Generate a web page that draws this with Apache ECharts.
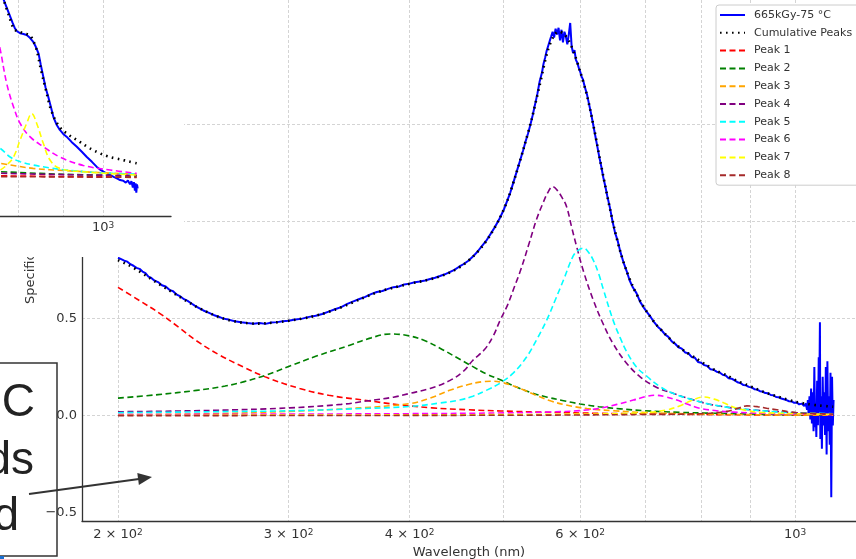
<!DOCTYPE html>
<html><head><meta charset="utf-8">
<script src="https://cdn.jsdelivr.net/npm/echarts@6/dist/echarts.min.js"></script>
<style>html,body{margin:0;padding:0;background:#fff}#c{width:856px;height:559px}</style>
</head><body><div id="c"></div>
<script>
// ---------- DATA ----------
const xTickValues = [200,300,400,500,600,700,800,900,1000];
const xLabelValues = [200,300,400,600,1000];
const yTickValues = [-0.5,0,0.5,1,1.5,2];
const insetXTicks = [800,900,1000];
const insetXLabels = [1000];
const insetYTicks = [0,0.5];

const seriesNames = ['665kGy-75 °C','Cumulative Peaks','Peak 1','Peak 2','Peak 3','Peak 4','Peak 5','Peak 6','Peak 7','Peak 8'];
const peakColors = ['#ff0000','#008000','#ffa500','#800080','#00ffff','#ff00ff','#ffff00','#a52a2a'];

const mainMeasured = [[200,0.812],[201.5,0.805],[203,0.797],[204.5,0.792],[206,0.779],[207.5,0.771],[209,0.76],[210.5,0.755],[212,0.741],[213.5,0.733],[215,0.715],[216.5,0.708],[218,0.695],[220,0.687],[222,0.671],[224,0.664],[226,0.647],[228,0.64],[230,0.622],[232,0.613],[234,0.599],[236,0.59],[238,0.578],[240,0.566],[242,0.556],[245,0.541],[248,0.53],[251,0.518],[254,0.509],[257,0.499],[260,0.494],[264,0.486],[268,0.48],[272,0.476],[276,0.473],[280,0.476],[284,0.472],[288,0.479],[292,0.481],[296,0.486],[300,0.488],[305,0.495],[310,0.499],[315,0.508],[320,0.514],[325,0.523],[330,0.535],[335,0.547],[340,0.558],[345,0.575],[350,0.588],[355,0.6],[360,0.611],[365,0.625],[370,0.636],[375,0.641],[380,0.652],[385,0.661],[390,0.664],[395,0.675],[400,0.679],[405,0.686],[410,0.69],[415,0.695],[420,0.703],[425,0.709],[430,0.718],[435,0.727],[440,0.738],[445,0.75],[450,0.766],[455,0.78],[460,0.797],[465,0.818],[470,0.843],[475,0.872],[480,0.9],[485,0.935],[490,0.97],[495,1.01],[500,1.055],[504,1.1],[508,1.145],[512,1.2],[516,1.255],[520,1.31],[524,1.365],[527,1.41],[530,1.45],[533,1.495],[536,1.545],[539,1.6],[542,1.655],[545,1.72],[548,1.765],[550,1.81],[552,1.84],[554,1.875],[556,1.9],[558,1.925],[560,1.95],[562,1.975],[564,1.945],[566,1.99],[568,1.96],[570,1.995],[572,1.93],[574,1.985],[576,1.92],[578,1.975],[580,1.95],[582,1.91],[584,1.96],[586,2.02],[588,1.9],[590,1.865],[592,1.88],[594,1.83],[596,1.815],[598,1.79],[600,1.77],[602,1.745],[604,1.73],[606,1.7],[608,1.675],[610,1.65],[613,1.6],[616,1.55],[619,1.495],[622,1.44],[625,1.385],[628,1.33],[631,1.28],[634,1.225],[637,1.18],[640,1.13],[644,1.07],[648,1.0],[652,0.94],[656,0.9],[660,0.845],[665,0.79],[670,0.745],[675,0.695],[680,0.66],[686,0.63],[692,0.585],[698,0.556],[704,0.53],[710,0.505],[716,0.478],[722,0.456],[728,0.44],[734,0.418],[740,0.405],[746,0.382],[752,0.37],[758,0.352],[764,0.345],[770,0.325],[776,0.321],[782,0.302],[788,0.298],[794,0.276],[800,0.272],[806,0.26],[812,0.255],[818,0.238],[824,0.236],[830,0.226],[836,0.222],[842,0.21],[848,0.206],[854,0.192],[860,0.19],[866,0.182],[872,0.172],[878,0.168],[884,0.158],[890,0.156],[896,0.148],[902,0.145],[908,0.136],[914,0.134],[920,0.126],[926,0.124],[932,0.116],[938,0.115],[944,0.106],[950,0.105],[956,0.096],[962,0.094],[968,0.088],[974,0.084],[980,0.08],[986,0.074],[992,0.073],[998,0.066],[1004,0.068],[1010,0.058],[1016,0.062],[1022,0.05],[1026,0.063],[1029,0.03],[1031,0.08],[1033,0.0],[1035,0.1],[1037,-0.02],[1039,0.14],[1041,-0.04],[1043,0.12],[1045,-0.08],[1047,0.25],[1049,-0.06],[1050,0.05],[1052,-0.11],[1054,0.18],[1056,-0.05],[1058,0.3],[1059,0.02],[1061,0.48],[1062,-0.12],[1064,0.1],[1066,-0.17],[1068,0.2],[1070,-0.05],[1072,0.12],[1074,-0.1],[1076,0.25],[1078,-0.2],[1080,0.28],[1082,-0.08],[1084,0.1],[1086,-0.15],[1088,0.22],[1090,-0.42],[1092,0.2],[1094,-0.05],[1096,0.08]];

const mainCumulative = [[200,0.8],[205,0.775],[210,0.745],[215,0.712],[220,0.68],[225,0.65],[230,0.62],[235,0.592],[240,0.565],[245,0.542],[250,0.522],[255,0.505],[260,0.492],[265,0.483],[270,0.477],[278,0.473],[286,0.476],[295,0.483],[305,0.493],[315,0.506],[325,0.523],[335,0.545],[345,0.57],[355,0.597],[365,0.622],[375,0.643],[385,0.658],[395,0.672],[405,0.684],[415,0.695],[425,0.708],[435,0.725],[445,0.748],[455,0.778],[465,0.818],[475,0.868],[485,0.932],[495,1.01],[505,1.11],[515,1.24],[525,1.38],[535,1.53],[545,1.7],[555,1.87],[563,1.95],[570,1.975],[577,1.965],[584,1.93],[592,1.86],[600,1.77],[610,1.645],[620,1.48],[630,1.3],[640,1.13],[650,0.975],[660,0.845],[670,0.745],[680,0.665],[692,0.59],[705,0.525],[720,0.465],[735,0.418],[750,0.375],[770,0.33],[790,0.295],[810,0.26],[830,0.23],[850,0.207],[870,0.18],[890,0.16],[910,0.14],[930,0.12],[950,0.105],[975,0.087],[1000,0.072],[1030,0.06],[1060,0.052],[1095,0.046]];

const mainPeak1 = [[200,0.66],[210,0.595],[221,0.525],[231,0.455],[241,0.385],[255,0.31],[270,0.248],[285,0.196],[308,0.14],[330,0.105],[361,0.078],[390,0.056],[422,0.04],[460,0.03],[497,0.024],[560,0.017],[627,0.012],[700,0.009],[797,0.006],[900,0.004],[1000,0.003],[1095,0.002]];
const mainPeak2 = [[200,0.09],[220,0.108],[241,0.13],[258,0.152],[270,0.175],[285,0.21],[301,0.255],[320,0.305],[347,0.362],[365,0.4],[382,0.42],[400,0.41],[415,0.385],[430,0.347],[447,0.3],[465,0.252],[480,0.215],[497,0.183],[515,0.148],[535,0.117],[555,0.095],[575,0.078],[600,0.06],[627,0.046],[660,0.035],[700,0.025],[760,0.017],[830,0.012],[950,0.006],[1095,0.003]];
const mainPeak3 = [[200,0.005],[250,0.01],[300,0.022],[350,0.038],[400,0.062],[420,0.09],[440,0.13],[460,0.16],[475,0.174],[485,0.177],[497,0.172],[510,0.155],[525,0.132],[540,0.105],[560,0.075],[580,0.055],[610,0.036],[650,0.025],[700,0.016],[800,0.008],[900,0.005],[1095,0.002]];
const mainPeak4 = [[200,0.02],[250,0.027],[301,0.04],[340,0.058],[361,0.075],[385,0.095],[400,0.114],[420,0.14],[440,0.18],[455,0.23],[465,0.285],[478,0.34],[488,0.41],[496,0.49],[505,0.57],[513,0.66],[521,0.75],[531,0.88],[541,1.01],[550,1.1],[556,1.15],[562,1.178],[568,1.16],[575,1.12],[581,1.075],[588,0.97],[595,0.87],[605,0.74],[619,0.595],[634,0.47],[649,0.37],[670,0.27],[692,0.2],[720,0.145],[748,0.115],[780,0.085],[814,0.06],[860,0.04],[900,0.03],[1000,0.015],[1095,0.008]];
const mainPeak5 = [[200,0.015],[250,0.02],[301,0.025],[350,0.035],[400,0.047],[430,0.065],[450,0.08],[465,0.1],[480,0.13],[497,0.17],[512,0.22],[528,0.3],[541,0.39],[554,0.49],[565,0.59],[577,0.7],[590,0.82],[597,0.85],[605,0.862],[612,0.84],[619,0.8],[627,0.73],[634,0.65],[649,0.49],[660,0.4],[670,0.33],[686,0.25],[704,0.2],[725,0.15],[748,0.115],[780,0.085],[814,0.06],[860,0.04],[900,0.03],[970,0.018],[1095,0.01]];
const mainPeak6 = [[200,0.005],[300,0.008],[400,0.01],[500,0.014],[560,0.019],[600,0.026],[627,0.037],[655,0.058],[681,0.08],[700,0.097],[716,0.105],[735,0.097],[755,0.08],[775,0.058],[797,0.038],[830,0.025],[863,0.018],[950,0.01],[1095,0.005]];
const mainPeak7 = [[200,0.002],[400,0.004],[600,0.008],[700,0.015],[738,0.03],[760,0.05],[780,0.075],[804,0.096],[825,0.085],[845,0.065],[863,0.045],[890,0.027],[920,0.017],[1000,0.01],[1095,0.007]];
const mainPeak8 = [[200,0.0],[500,0.002],[700,0.006],[800,0.01],[850,0.022],[870,0.035],[892,0.05],[915,0.046],[935,0.038],[958,0.03],[985,0.02],[1012,0.014],[1095,0.008]];

const insetMeasured = [[755,0.95],[762,0.9],[767,0.86],[772,0.83],[777,0.8],[782,0.77],[787,0.74],[792,0.713],[797,0.698],[803,0.69],[810,0.686],[817,0.681],[824,0.668],[831,0.65],[837,0.625],[843,0.594],[848,0.54],[854,0.48],[859,0.43],[865,0.387],[871,0.34],[877,0.29],[884,0.255],[892,0.229],[900,0.21],[908,0.197],[920,0.172],[933,0.149],[946,0.124],[958,0.1],[971,0.077],[983,0.054],[992,0.04],[1001,0.03],[1010,0.021],[1019,0.014],[1030,0.004],[1040,-0.004],[1046,-0.01],[1055,-0.013],[1062,-0.022],[1068,-0.012],[1074,-0.03],[1078,-0.015],[1082,-0.045],[1085,-0.02],[1088,-0.06],[1090,-0.025],[1092,-0.07],[1094,-0.03],[1096,-0.05]];
const insetCumulative = [[760,0.92],[770,0.84],[780,0.77],[789,0.713],[796,0.7],[803,0.695],[813,0.688],[824,0.68],[831,0.655],[839,0.61],[846,0.54],[854,0.467],[862,0.4],[869,0.34],[878,0.29],[888,0.252],[898,0.228],[908,0.213],[920,0.196],[933,0.181],[950,0.16],[966,0.141],[983,0.125],[1001,0.11],[1020,0.099],[1046,0.089],[1070,0.079],[1093,0.07]];
const insetPeak1 = [[745,0.011],[900,0.007],[1093,0.004]];
const insetPeak2 = [[745,0.032],[900,0.018],[1093,0.01]];
const insetPeak3 = [[745,0.078],[762,0.07],[831,0.046],[908,0.035],[1000,0.025],[1093,0.018]];
const insetPeak4 = [[745,0.024],[900,0.016],[1093,0.012]];
const insetPeak5 = [[745,0.16],[762,0.141],[782,0.1],[803,0.078],[831,0.062],[870,0.048],[908,0.038],[992,0.025],[1093,0.019]];
const insetPeak6 = [[745,0.8],[755,0.68],[762,0.61],[775,0.45],[789,0.34],[803,0.26],[824,0.197],[854,0.149],[892,0.1],[949,0.06],[1019,0.038],[1093,0.022]];
const insetPeak7 = [[745,0.02],[762,0.038],[775,0.062],[789,0.1],[803,0.181],[817,0.26],[828,0.307],[839,0.26],[854,0.164],[869,0.086],[892,0.046],[949,0.03],[1093,0.014]];
const insetPeak8 = [[745,0.007],[900,0.005],[1093,0.003]];

const mainPeaks = [mainPeak1,mainPeak2,mainPeak3,mainPeak4,mainPeak5,mainPeak6,mainPeak7,mainPeak8];
const insetPeaks = [insetPeak1,insetPeak2,insetPeak3,insetPeak4,insetPeak5,insetPeak6,insetPeak7,insetPeak8];

// ---------- CHART ----------
const FONT = 'DejaVu Sans';
function sciLabel(v){
  const e = Math.floor(Math.log10(v) + 1e-9);
  const m = Math.round(v / Math.pow(10, e));
  return (m === 1 ? '' : m + ' × ') + '10{sup|' + e + '}';
}
function yLabel(v){
  if (Math.abs(v*2 - Math.round(v*2)) > 1e-6) return '';
  if (Math.abs(v) < 1e-9) return '0.0';
  return (v < 0 ? '\u2212' : '') + Math.abs(v).toFixed(1);
}
const gridLine = {show:true, lineStyle:{color:'#d4d4d4', width:1, type:[3,2]}};
const supRich = {sup:{fontSize:9, lineHeight:9, verticalAlign:'top', fontFamily:FONT, color:'#333'}};

const series = [];
series.push({name:seriesNames[0], type:'line', xAxisIndex:0, yAxisIndex:0, data:mainMeasured, symbol:'none', showSymbol:false,
  lineStyle:{color:'#0000ff', width:2}, itemStyle:{color:'#0000ff'}, z:2});
series.push({name:seriesNames[1], type:'line', xAxisIndex:0, yAxisIndex:0, data:mainCumulative, symbol:'none', smooth:0.3,
  lineStyle:{color:'#000', width:2.6, type:[1.6,4.4]}, itemStyle:{color:'#000'}, z:3});
mainPeaks.forEach((d,i)=>{
  series.push({name:seriesNames[i+2], type:'line', xAxisIndex:0, yAxisIndex:0, data:d, symbol:'none', smooth:0.4,
    lineStyle:{color:peakColors[i], width:1.6, type:[6,3.5]}, itemStyle:{color:peakColors[i]}, z:3});
});
series.push({name:'inset-measured', type:'line', xAxisIndex:1, yAxisIndex:1, data:insetMeasured, symbol:'none',
  lineStyle:{color:'#0000ff', width:2}, itemStyle:{color:'#0000ff'}, z:12});
series.push({name:'inset-cumulative', type:'line', xAxisIndex:1, yAxisIndex:1, data:insetCumulative, symbol:'none', smooth:0.3,
  lineStyle:{color:'#000', width:2.6, type:[1.6,4.4]}, itemStyle:{color:'#000'}, z:13});
insetPeaks.forEach((d,i)=>{
  series.push({name:'inset-'+seriesNames[i+2], type:'line', xAxisIndex:1, yAxisIndex:1, data:d, symbol:'none', smooth:0.4,
    lineStyle:{color:peakColors[i], width:1.6, type:[6,3.5]}, itemStyle:{color:peakColors[i]}, z:13});
});

const chart = echarts.init(document.getElementById('c'), null, {renderer:'canvas'});
chart.setOption({
  animation:false,
  backgroundColor:'#fff',
  textStyle:{fontFamily:FONT},
  grid:[
    {left:82, top:0, right:0, bottom:38, outerBoundsMode:'none', containLabel:false},
    {left:-50, top:0, width:221, height:216, outerBoundsMode:'none', containLabel:false}
  ],
  xAxis:[
    {type:'log', logBase:10, gridIndex:0, min:183.6, max:1156,
     name:'Wavelength (nm)', nameLocation:'middle', nameGap:20,
     nameTextStyle:{fontSize:13, color:'#333', fontFamily:FONT},
     axisLine:{show:true, onZero:false, lineStyle:{color:'#333', width:1.3}},
     axisTick:{show:false, customValues:xTickValues},
     axisLabel:{customValues:xLabelValues, formatter:sciLabel, fontSize:13, color:'#333', margin:7, fontFamily:FONT, rich:supRich},
     splitLine:gridLine, minorTick:{show:false}, minorSplitLine:{show:false}, z:0},
    {type:'log', logBase:10, gridIndex:1, min:667, max:1197,
     axisLine:{show:true, onZero:false, lineStyle:{color:'#333', width:1.3}},
     axisTick:{show:false, customValues:insetXTicks},
     axisLabel:{customValues:insetXLabels, formatter:sciLabel, fontSize:13, color:'#333', margin:5, fontFamily:FONT, rich:supRich},
     splitLine:gridLine, z:11}
  ],
  yAxis:[
    {type:'value', gridIndex:0, min:-0.542, max:2.138,
     axisLine:{show:true, onZero:false, lineStyle:{color:'#333', width:1.3}},
     axisTick:{show:false, customValues:yTickValues},
     axisLabel:{customValues:yTickValues, formatter:yLabel, fontSize:13, color:'#333', margin:5, fontFamily:FONT},
     splitLine:Object.assign({showMinLine:false, showMaxLine:false}, gridLine), z:0},
    {type:'value', gridIndex:1, min:-0.181, max:0.848,
     axisLine:{show:false, onZero:false},
     axisTick:{show:false, customValues:insetYTicks},
     axisLabel:{show:false, customValues:insetYTicks},
     splitLine:Object.assign({showMinLine:false, showMaxLine:false}, gridLine), z:11}
  ],
  legend:{
    data:seriesNames, orient:'vertical', left:716, top:5,
    itemWidth:25, itemHeight:10, itemGap:5.8,
    padding:[4,24,4,3],
    backgroundColor:'#fff', borderColor:'#cccccc', borderWidth:1, borderRadius:3,
    itemStyle:{opacity:0},
    textStyle:{fontSize:11, color:'#333', fontFamily:FONT, lineHeight:12, padding:[0,0,0,4]},
    z:20, selectedMode:false
  },
  series:series,
  graphic:[
    {type:'rect', shape:{x:0,y:0,width:184,height:257}, style:{fill:'#fff'}, z:10},
    {type:'text', x:31, y:304, rotation:Math.PI/2,
     style:{text:'Specific Absorbance', fontSize:13, fontFamily:FONT, fill:'#333', align:'left', verticalAlign:'middle', textAlign:'left', textVerticalAlign:'middle'}, z:5},
    {type:'rect', shape:{x:-5,y:363,width:62,height:193}, style:{fill:'#fff', stroke:'#333', lineWidth:1.5}, z:-1},
    {type:'text', x:35, y:403, style:{text:'C', font:'46px "Liberation Sans"', fill:'#222', align:'right', verticalAlign:'middle', textAlign:'right', textVerticalAlign:'middle'}, z:-1},
    {type:'text', x:34, y:461, style:{text:'ds', font:'46px "Liberation Sans"', fill:'#222', align:'right', verticalAlign:'middle', textAlign:'right', textVerticalAlign:'middle'}, z:-1},
    {type:'text', x:19, y:517, style:{text:'d', font:'46px "Liberation Sans"', fill:'#222', align:'right', verticalAlign:'middle', textAlign:'right', textVerticalAlign:'middle'}, z:-1},
    {type:'rect', shape:{x:0,y:556,width:4,height:3}, style:{fill:'#1a6fd0'}, z:-1},
    {type:'polyline', shape:{points:[[29,494],[139,479]]}, style:{stroke:'#333', lineWidth:2}, z:20},
    {type:'polygon', shape:{points:[[152,477],[138.9,484.9],[137.3,472.9]]}, style:{fill:'#333'}, z:20}
  ]
});
</script>
</body></html>
